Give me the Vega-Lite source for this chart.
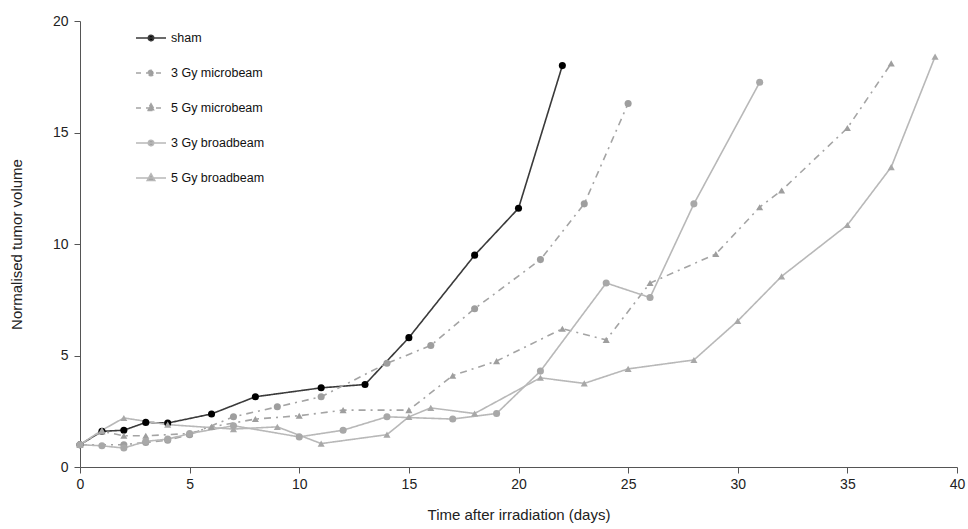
{
  "$schema": "https://vega.github.io/schema/vega-lite/v6.json",
  "width": 877,
  "height": 446,
  "autosize": {"type": "none"},
  "padding": {"left": 80, "top": 21, "right": 11, "bottom": 62},
  "background": "white",
  "config": {
    "view": {"stroke": null},
    "font": "Liberation Sans",
    "axis": {"grid": false, "labelFlush": false, "domainColor": "#555", "tickColor": "#555", "labelColor": "#222", "titleColor": "#222", "labelFontSize": 14, "titleFontSize": 15, "titleFontWeight": "normal", "labelFont": "Liberation Sans", "titleFont": "Liberation Sans"}
  },
  "data": {"values": [
    {"series": "sham", "day": 0, "vol": 1.0},
    {"series": "sham", "day": 1, "vol": 1.6},
    {"series": "sham", "day": 2, "vol": 1.65},
    {"series": "sham", "day": 3, "vol": 2.0},
    {"series": "sham", "day": 4, "vol": 1.97},
    {"series": "sham", "day": 6, "vol": 2.38},
    {"series": "sham", "day": 8, "vol": 3.15},
    {"series": "sham", "day": 11, "vol": 3.55},
    {"series": "sham", "day": 13, "vol": 3.7},
    {"series": "sham", "day": 15, "vol": 5.8},
    {"series": "sham", "day": 18, "vol": 9.5},
    {"series": "sham", "day": 20, "vol": 11.6},
    {"series": "sham", "day": 22, "vol": 18.0},
    {"series": "3 Gy microbeam", "day": 0, "vol": 1.0},
    {"series": "3 Gy microbeam", "day": 2, "vol": 1.0},
    {"series": "3 Gy microbeam", "day": 3, "vol": 1.1},
    {"series": "3 Gy microbeam", "day": 4, "vol": 1.2},
    {"series": "3 Gy microbeam", "day": 5, "vol": 1.45},
    {"series": "3 Gy microbeam", "day": 7, "vol": 2.25},
    {"series": "3 Gy microbeam", "day": 9, "vol": 2.7},
    {"series": "3 Gy microbeam", "day": 11, "vol": 3.15},
    {"series": "3 Gy microbeam", "day": 14, "vol": 4.65},
    {"series": "3 Gy microbeam", "day": 16, "vol": 5.45},
    {"series": "3 Gy microbeam", "day": 18, "vol": 7.1},
    {"series": "3 Gy microbeam", "day": 21, "vol": 9.3},
    {"series": "3 Gy microbeam", "day": 23, "vol": 11.8},
    {"series": "3 Gy microbeam", "day": 25, "vol": 16.3},
    {"series": "5 Gy microbeam", "day": 0, "vol": 1.0},
    {"series": "5 Gy microbeam", "day": 1, "vol": 1.6},
    {"series": "5 Gy microbeam", "day": 2, "vol": 1.4},
    {"series": "5 Gy microbeam", "day": 3, "vol": 1.4},
    {"series": "5 Gy microbeam", "day": 5, "vol": 1.5},
    {"series": "5 Gy microbeam", "day": 6, "vol": 1.8},
    {"series": "5 Gy microbeam", "day": 8, "vol": 2.15},
    {"series": "5 Gy microbeam", "day": 10, "vol": 2.3},
    {"series": "5 Gy microbeam", "day": 12, "vol": 2.55},
    {"series": "5 Gy microbeam", "day": 15, "vol": 2.55},
    {"series": "5 Gy microbeam", "day": 17, "vol": 4.1},
    {"series": "5 Gy microbeam", "day": 19, "vol": 4.75},
    {"series": "5 Gy microbeam", "day": 22, "vol": 6.2},
    {"series": "5 Gy microbeam", "day": 24, "vol": 5.7},
    {"series": "5 Gy microbeam", "day": 26, "vol": 8.25},
    {"series": "5 Gy microbeam", "day": 29, "vol": 9.55},
    {"series": "5 Gy microbeam", "day": 31, "vol": 11.65},
    {"series": "5 Gy microbeam", "day": 32, "vol": 12.4},
    {"series": "5 Gy microbeam", "day": 35, "vol": 15.2},
    {"series": "5 Gy microbeam", "day": 37, "vol": 18.1},
    {"series": "3 Gy broadbeam", "day": 0, "vol": 1.0},
    {"series": "3 Gy broadbeam", "day": 1, "vol": 0.95},
    {"series": "3 Gy broadbeam", "day": 2, "vol": 0.85},
    {"series": "3 Gy broadbeam", "day": 3, "vol": 1.15},
    {"series": "3 Gy broadbeam", "day": 4, "vol": 1.25},
    {"series": "3 Gy broadbeam", "day": 5, "vol": 1.5},
    {"series": "3 Gy broadbeam", "day": 7, "vol": 1.85},
    {"series": "3 Gy broadbeam", "day": 10, "vol": 1.35},
    {"series": "3 Gy broadbeam", "day": 12, "vol": 1.65},
    {"series": "3 Gy broadbeam", "day": 14, "vol": 2.25},
    {"series": "3 Gy broadbeam", "day": 17, "vol": 2.15},
    {"series": "3 Gy broadbeam", "day": 19, "vol": 2.4},
    {"series": "3 Gy broadbeam", "day": 21, "vol": 4.3},
    {"series": "3 Gy broadbeam", "day": 24, "vol": 8.25},
    {"series": "3 Gy broadbeam", "day": 26, "vol": 7.6},
    {"series": "3 Gy broadbeam", "day": 28, "vol": 11.8},
    {"series": "3 Gy broadbeam", "day": 31, "vol": 17.25},
    {"series": "5 Gy broadbeam", "day": 0, "vol": 1.0},
    {"series": "5 Gy broadbeam", "day": 1, "vol": 1.65},
    {"series": "5 Gy broadbeam", "day": 2, "vol": 2.2},
    {"series": "5 Gy broadbeam", "day": 4, "vol": 1.9},
    {"series": "5 Gy broadbeam", "day": 7, "vol": 1.7},
    {"series": "5 Gy broadbeam", "day": 9, "vol": 1.8},
    {"series": "5 Gy broadbeam", "day": 11, "vol": 1.05},
    {"series": "5 Gy broadbeam", "day": 14, "vol": 1.45},
    {"series": "5 Gy broadbeam", "day": 15, "vol": 2.25},
    {"series": "5 Gy broadbeam", "day": 16, "vol": 2.65},
    {"series": "5 Gy broadbeam", "day": 18, "vol": 2.4},
    {"series": "5 Gy broadbeam", "day": 21, "vol": 4.0},
    {"series": "5 Gy broadbeam", "day": 23, "vol": 3.75},
    {"series": "5 Gy broadbeam", "day": 25, "vol": 4.4},
    {"series": "5 Gy broadbeam", "day": 28, "vol": 4.8},
    {"series": "5 Gy broadbeam", "day": 30, "vol": 6.55},
    {"series": "5 Gy broadbeam", "day": 32, "vol": 8.55},
    {"series": "5 Gy broadbeam", "day": 35, "vol": 10.85},
    {"series": "5 Gy broadbeam", "day": 37, "vol": 13.45},
    {"series": "5 Gy broadbeam", "day": 39, "vol": 18.4}
  ]},
  "encoding": {
    "x": {"field": "day", "type": "quantitative", "scale": {"domain": [0, 40], "nice": false}, "axis": {"values": [0,5,10,15,20,25,30,35,40], "title": "Time  after irradiation (days)", "tickSize": 6, "labelPadding": 4, "titlePadding": 16}},
    "y": {"field": "vol", "type": "quantitative", "scale": {"domain": [0, 20], "nice": false}, "axis": {"values": [0,5,10,15,20], "title": "Normalised tumor volume", "tickSize": 6, "labelPadding": 6, "titlePadding": 28}},
    "color": {"field": "series", "type": "nominal", "scale": {"domain": ["sham", "3 Gy microbeam", "5 Gy microbeam", "3 Gy broadbeam", "5 Gy broadbeam"], "range": ["#3a3a3a", "#a4a4a4", "#a4a4a4", "#b8b8b8", "#b8b8b8"]}}
  },
  "layer": [
    {
      "mark": {"type": "line", "strokeWidth": 1.6},
      "encoding": {
        "strokeDash": {"field": "series", "type": "nominal", "scale": {"domain": ["sham", "3 Gy microbeam", "5 Gy microbeam", "3 Gy broadbeam", "5 Gy broadbeam"], "range": [[1, 0], [7, 5, 2, 5], [7, 5, 2, 5], [1, 0], [1, 0]]}},
        "color": {"field": "series", "type": "nominal", "legend": {
          "title": null, "orient": "none", "legendX": 55, "legendY": 1,
          "rowPadding": 12, "labelFontSize": 12.5, "labelColor": "#111", "labelFont": "Liberation Sans",
          "symbolSize": 900, "symbolStrokeWidth": 1.6, "labelOffset": 4,
          "encode": {"symbols": {"update": {
            "shape": {"signal": "indexof(datum.value, '5 Gy') >= 0 ? 'M-1,0H1M0,-0.28L0.25,0.17L-0.25,0.17Z' : 'M-1,0H1M-0.18,0A0.18,0.18,0,1,1,0.18,0A0.18,0.18,0,1,1,-0.18,0Z'"},
            "fill": {"signal": "datum.value == 'sham' ? '#000' : '#9e9e9e'"},
            "strokeDash": {"signal": "indexof(datum.value, 'micro') >= 0 ? [5, 5] : [1, 0]"}
          }}}
        }}
      }
    },
    {
      "mark": {"type": "point", "filled": true, "opacity": 1, "size": 50},
      "encoding": {
        "shape": {"field": "series", "type": "nominal", "scale": {"domain": ["sham", "3 Gy microbeam", "5 Gy microbeam", "3 Gy broadbeam", "5 Gy broadbeam"], "range": ["circle", "circle", "triangle-up", "circle", "triangle-up"]}, "legend": null},
        "color": {"field": "series", "type": "nominal", "scale": {"domain": ["sham", "3 Gy microbeam", "5 Gy microbeam", "3 Gy broadbeam", "5 Gy broadbeam"], "range": ["#000000", "#9e9e9e", "#9e9e9e", "#a8a8a8", "#a8a8a8"]}, "legend": null}
      }
    }
  ],
  "resolve": {"scale": {"color": "independent"}}
}
